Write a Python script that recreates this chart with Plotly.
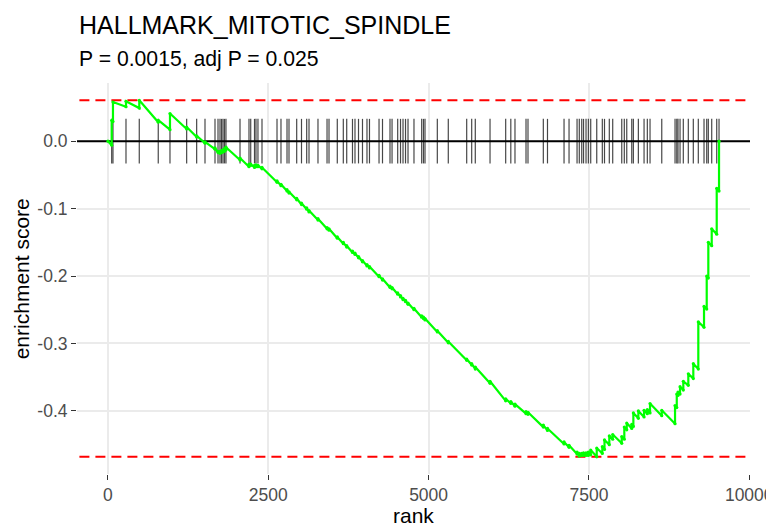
import plotly.graph_objects as go

# Gene-set hits along the ranked list
hit_ranks = [
    58, 78, 281, 488, 784, 967, 1227, 1383, 1513, 1669,
    1716, 1747, 1771, 1794, 1817, 1840, 2059, 2199, 2226, 2285,
    2308, 2339, 2402, 2636, 2698, 2792, 2823, 2943, 3018, 3099,
    3135, 3275, 3416, 3447, 3576, 3670, 3723, 3813, 3852, 3907,
    3969, 4039, 4078, 4227, 4281, 4398, 4430, 4518, 4562, 4601,
    4640, 4679, 4772, 4892, 4920, 4944, 5136, 5307, 5594, 5672,
    5728, 5958, 6202, 6282, 6347, 6519, 6550, 6789, 6854, 7112,
    7190, 7315, 7350, 7388, 7416, 7455, 7491, 7528, 7622, 7709,
    7743, 7818, 7871, 8012, 8052, 8090, 8168, 8193, 8271, 8360,
    8411, 8453, 8636, 8843, 8870, 8889, 8921, 8972, 9050, 9128,
    9206, 9295, 9337, 9362, 9415, 9493, 9529,
]

# Running enrichment score (bottom / top of each step)
es_rank = [
    0, 58, 58, 78, 78, 281, 281, 488, 488, 784, 784, 967, 967,
    1227, 1227, 1383, 1383, 1513, 1513, 1669, 1669, 1716, 1716,
    1747, 1747, 1771, 1771, 1794, 1794, 1817, 1817, 1840, 1840,
    2059, 2059, 2199, 2199, 2226, 2226, 2285, 2285, 2308, 2308,
    2339, 2339, 2402, 2402, 2636, 2636, 2698, 2698, 2792, 2792,
    2823, 2823, 2943, 2943, 3018, 3018, 3099, 3099, 3135, 3135,
    3275, 3275, 3416, 3416, 3447, 3447, 3576, 3576, 3670, 3670,
    3723, 3723, 3813, 3813, 3852, 3852, 3907, 3907, 3969, 3969,
    4039, 4039, 4078, 4078, 4227, 4227, 4281, 4281, 4398, 4398,
    4430, 4430, 4518, 4518, 4562, 4562, 4601, 4601, 4640, 4640,
    4679, 4679, 4772, 4772, 4892, 4892, 4920, 4920, 4944, 4944,
    5136, 5136, 5307, 5307, 5594, 5594, 5672, 5672, 5728, 5728,
    5958, 5958, 6202, 6202, 6282, 6282, 6347, 6347, 6519, 6519,
    6550, 6550, 6789, 6789, 6854, 6854, 7112, 7112, 7190, 7190,
    7315, 7315, 7350, 7350, 7388, 7388, 7416, 7416, 7455, 7455,
    7491, 7491, 7528, 7528, 7622, 7622, 7709, 7709, 7743, 7743,
    7818, 7818, 7871, 7871, 8012, 8012, 8052, 8052, 8090, 8090,
    8168, 8168, 8193, 8193, 8271, 8271, 8360, 8360, 8411, 8411,
    8453, 8453, 8636, 8636, 8843, 8843, 8870, 8870, 8889, 8889,
    8921, 8921, 8972, 8972, 9050, 9050, 9128, 9128, 9206, 9206,
    9295, 9295, 9337, 9337, 9362, 9362, 9415, 9415, 9493, 9493,
    9529, 9529,
]
es_value = [
    0.0, -0.006, 0.031, 0.029, 0.058, 0.051, 0.059, 0.049, 0.0605, 0.028, 0.031, 0.017, 0.041,
    0.018, 0.021, 0.006, 0.008, -0.003, -0.001, -0.012, -0.010, -0.017, -0.015,
    -0.018, -0.015, -0.017, -0.014, -0.016, -0.013, -0.015, -0.011, -0.013, -0.009,
    -0.028, -0.025, -0.038, -0.034, -0.036, -0.034, -0.039, -0.036, -0.038, -0.035,
    -0.038, -0.036, -0.041, -0.039, -0.061, -0.059, -0.066, -0.064, -0.074, -0.072,
    -0.077, -0.075, -0.087, -0.085, -0.094, -0.092, -0.101, -0.099, -0.105, -0.103,
    -0.117, -0.115, -0.130, -0.128, -0.132, -0.130, -0.144, -0.142, -0.152, -0.150,
    -0.157, -0.155, -0.165, -0.163, -0.168, -0.166, -0.173, -0.171, -0.179, -0.177,
    -0.185, -0.183, -0.188, -0.186, -0.201, -0.199, -0.206, -0.204, -0.217, -0.215,
    -0.219, -0.217, -0.227, -0.225, -0.231, -0.229, -0.235, -0.233, -0.238, -0.236,
    -0.242, -0.240, -0.250, -0.248, -0.261, -0.259, -0.263, -0.261, -0.265, -0.263,
    -0.283, -0.281, -0.299, -0.297, -0.325, -0.323, -0.332, -0.330, -0.338, -0.335,
    -0.359, -0.356, -0.385, -0.382, -0.389, -0.386, -0.393, -0.390, -0.404, -0.401,
    -0.405, -0.402, -0.424, -0.421, -0.429, -0.426, -0.449, -0.446, -0.454, -0.451,
    -0.464, -0.461, -0.467, -0.463, -0.466, -0.463, -0.466, -0.462, -0.466, -0.462,
    -0.466, -0.461, -0.465, -0.458, -0.468, -0.455, -0.463, -0.453, -0.457, -0.443,
    -0.450, -0.437, -0.442, -0.435, -0.448, -0.438, -0.442, -0.424, -0.428, -0.418,
    -0.426, -0.420, -0.423, -0.403, -0.411, -0.400, -0.409, -0.399, -0.404, -0.398,
    -0.403, -0.389, -0.407, -0.399, -0.419, -0.392, -0.395, -0.375, -0.377, -0.372,
    -0.375, -0.364, -0.369, -0.356, -0.362, -0.345, -0.352, -0.330, -0.338, -0.268,
    -0.276, -0.245, -0.249, -0.200, -0.203, -0.150, -0.155, -0.130, -0.138, -0.070,
    -0.074, 0.0,
]

plot_title = "HALLMARK_MITOTIC_SPINDLE"
plot_subtitle = "P = 0.0015, adj P = 0.025"
x_label = "rank"
y_label = "enrichment score"
x_tick_vals = [0, 2500, 5000, 7500, 10000]
x_tick_text = ["0", "2500", "5000", "7500", "10000"]
y_tick_vals = [0.0, -0.1, -0.2, -0.3, -0.4]
y_tick_text = ["0.0", "-0.1", "-0.2", "-0.3", "-0.4"]

FONT = "Liberation Sans, Arial, Helvetica, sans-serif"

es_top = max(es_value)
es_bottom = min(es_value)
tick_half = (es_top - es_bottom) / 16

seg_x, seg_y = [], []
for r in hit_ranks:
    seg_x += [r, r, None]
    seg_y += [-tick_half, tick_half, None]

fig = go.Figure()

# zero line
fig.add_trace(go.Scatter(
    x=[-1e5, 1e5], y=[0, 0], mode="lines",
    line=dict(color="black", width=2), hoverinfo="skip", showlegend=False,
))
# max / min enrichment score
for lvl in (es_top, es_bottom):
    fig.add_trace(go.Scatter(
        x=[-1e5, 1e5], y=[lvl, lvl], mode="lines",
        line=dict(color="red", width=2, dash="10px,6px"),
        hoverinfo="skip", showlegend=False,
    ))
# hit ticks
fig.add_trace(go.Scatter(
    x=seg_x, y=seg_y, mode="lines",
    line=dict(color="rgba(0,0,0,0.72)", width=1.2),
    hoverinfo="skip", showlegend=False,
))
# running score
fig.add_trace(go.Scatter(
    x=es_rank, y=es_value, mode="lines+markers",
    line=dict(color="#00FF00", width=2.2),
    marker=dict(color="#00FF00", size=3.2),
    showlegend=False,
))

fig.update_layout(
    width=766, height=527,
    margin=dict(l=77, r=16, t=83, b=53, autoexpand=False),
    paper_bgcolor="white", plot_bgcolor="white",
    font=dict(family=FONT, color="black"),
    annotations=[
        dict(text=plot_title, xref="paper", yref="paper", x=0.0, y=1.148,
             xanchor="left", yanchor="middle", showarrow=False,
             font=dict(size=25, color="black", family=FONT)),
        dict(text=plot_subtitle, xref="paper", yref="paper", x=0.0, y=1.061,
             xanchor="left", yanchor="middle", showarrow=False,
             font=dict(size=21.2, color="black", family=FONT)),
        dict(text=x_label, xref="paper", yref="paper", x=0.5, y=-0.105,
             xanchor="center", yanchor="middle", showarrow=False,
             font=dict(size=21, color="black", family=FONT)),
        dict(text=y_label, xref="paper", yref="paper", x=-0.082, y=0.5,
             xanchor="center", yanchor="middle", showarrow=False, textangle=-90,
             font=dict(size=21, color="black", family=FONT)),
    ],
)
fig.update_xaxes(
    range=[-483, 10012], tickvals=x_tick_vals, ticktext=x_tick_text,
    showgrid=True, gridcolor="#EBEBEB", gridwidth=2, zeroline=False,
    showline=False, ticks="outside", ticklen=5, tickwidth=1.4, tickcolor="#333333",
    tickfont=dict(size=17.5, color="#4D4D4D", family=FONT),
    ticklabeloverflow="allow", automargin=False,
)
fig.update_yaxes(
    range=[-0.4935, 0.0862], tickvals=y_tick_vals, ticktext=y_tick_text,
    showgrid=True, gridcolor="#EBEBEB", gridwidth=2, zeroline=False,
    showline=False, ticks="outside", ticklen=5, tickwidth=1.4, tickcolor="#333333",
    tickfont=dict(size=17.5, color="#4D4D4D", family=FONT),
    automargin=False,
)

fig.write_html("out.html")
